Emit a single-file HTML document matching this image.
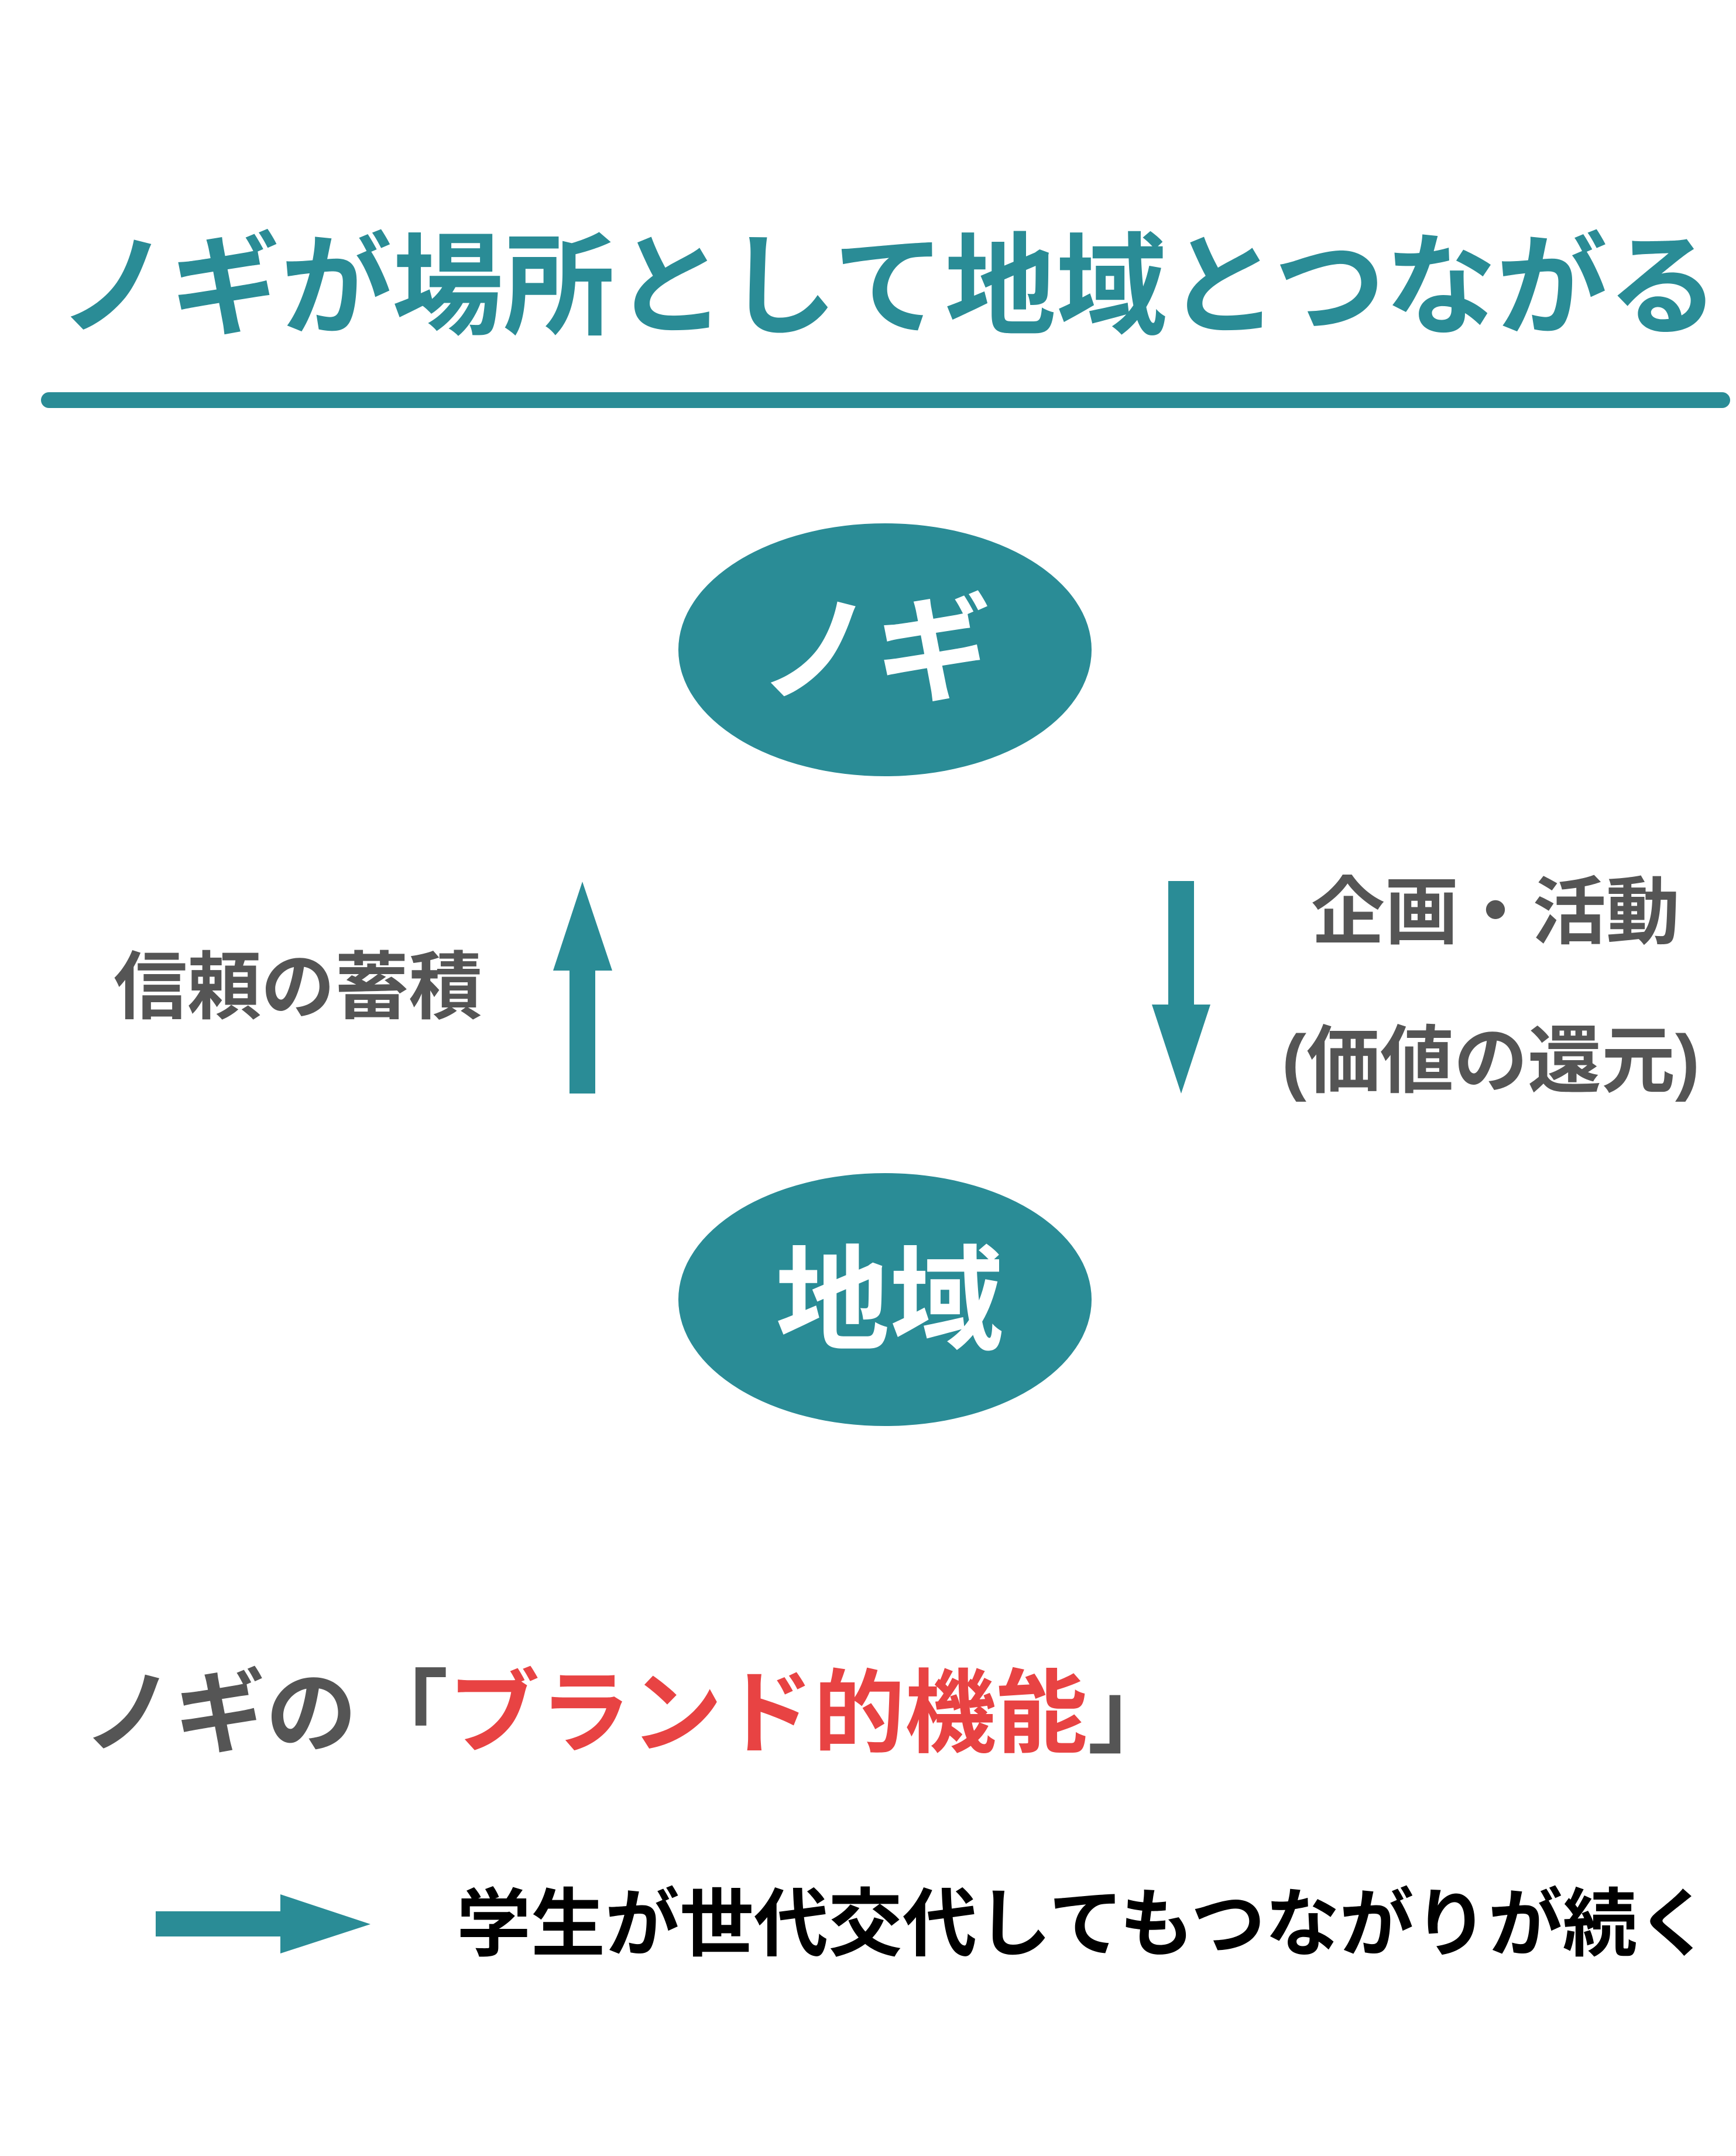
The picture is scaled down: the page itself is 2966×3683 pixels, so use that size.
<!DOCTYPE html>
<html><head><meta charset="utf-8"><style>
html,body{margin:0;padding:0;background:#fff}
body{width:2966px;height:3683px;position:relative;overflow:hidden;font-family:"Liberation Sans","Noto Sans CJK JP",sans-serif;font-weight:bold}
.t{position:absolute;white-space:nowrap;line-height:1}
</style></head><body>
<div class="t" style="left:100px;top:396px;font-size:190px;color:#2a8c96">ノギが場所として地域とつながる</div>
<div style="position:absolute;left:70px;top:670px;width:2886px;height:27px;border-radius:14px;background:#2a8c96"></div>
<svg style="position:absolute;left:0;top:0" width="2966" height="3683">
<ellipse cx="1512" cy="1110" rx="353" ry="216" fill="#2a8c96"/>
<ellipse cx="1512" cy="2220" rx="353" ry="216" fill="#2a8c96"/>
<polygon points="973,1868 1017,1868 1017,1658 1046,1658 995,1506 945,1658 973,1658" fill="#2a8c96"/>
<polygon points="1996,1505 2040,1505 2040,1716 2068,1716 2018,1868 1968,1716 1996,1716" fill="#2a8c96"/>
<polygon points="266,3265 479,3265 479,3236 633,3287 479,3337 479,3308 266,3308" fill="#2a8c96"/>
</svg>
<div class="t" style="left:1295px;top:1014px;width:400px;text-align:center;font-size:200px;color:#fff">ノギ</div>
<div class="t" style="left:1320px;top:2126px;width:400px;text-align:center;font-size:195px;color:#fff">地域</div>
<div class="t" style="left:194px;top:1624px;font-size:126px;color:#555">信頼の蓄積</div>
<div class="t" style="left:2240px;top:1496px;font-size:126px;color:#555">企画・活動</div>
<div class="t" style="left:2190px;top:1750px;font-size:126px;color:#555">(価値の還元)</div>
<div class="t" style="left:142px;top:2850px;font-size:156px;color:#555">ノギの「<span style="color:#e84343">ブランド的機能</span>」</div>
<div class="t" style="left:780px;top:3224px;font-size:127px;color:#000">学生が世代交代してもつながりが続く</div>
</body></html>
